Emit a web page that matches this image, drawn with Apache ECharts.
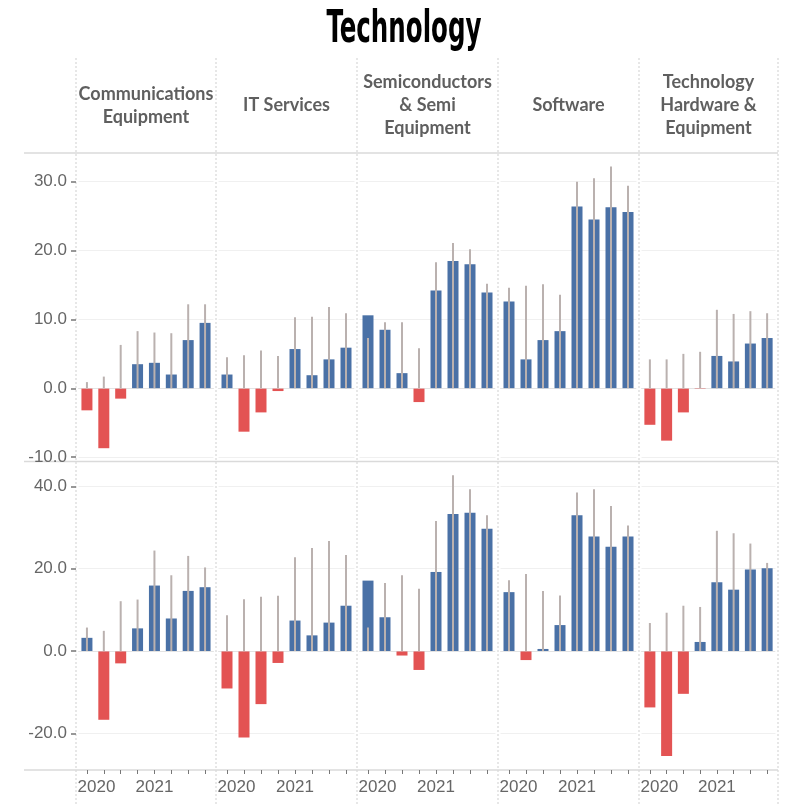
<!DOCTYPE html>
<html>
<head>
<meta charset="utf-8">
<title>Technology</title>
<script src="https://cdn.jsdelivr.net/npm/echarts@6/dist/echarts.min.js"></script>
<style>
  html, body { margin: 0; padding: 0; background: #fff; }
  #chart { width: 789px; height: 806px; }
</style>
</head>
<body>
<div id="chart"></div>
<script>
// categories: eight quarters, one bar each
const quarters = ['2020 Q1', '2020 Q2', '2020 Q3', '2020 Q4', '2021 Q1', '2021 Q2', '2021 Q3', '2021 Q4'];
const yearLabels = { '2020 Q1': '2020', '2021 Q1': '2021' };

const sectors = [
  'Communications\nEquipment',
  'IT Services',
  'Semiconductors\n& Semi\nEquipment',
  'Software',
  'Technology\nHardware &\nEquipment'
];

// top row: bars and thin grey reference bars, one list per sector
const topBars = [
  [-3.2, -8.7, -1.5, 3.5, 3.7, 2.0, 7.0, 9.5],
  [2.0, -6.3, -3.5, -0.4, 5.7, 1.9, 4.2, 5.9],
  [10.6, 8.5, 2.2, -2.0, 14.2, 18.5, 18.0, 13.9],
  [12.6, 4.2, 7.0, 8.3, 26.4, 24.5, 26.3, 25.6],
  [-5.3, -7.6, -3.5, -0.1, 4.7, 3.9, 6.5, 7.3]
];
const topRefs = [
  [0.9, 1.7, 6.3, 8.3, 8.1, 8.0, 12.2, 12.2],
  [4.5, 4.8, 5.5, 4.7, 10.3, 10.4, 11.8, 10.9],
  [7.3, 9.6, 9.6, 5.8, 18.3, 21.1, 20.2, 15.2],
  [14.6, 14.9, 15.1, 13.6, 30.0, 30.5, 32.2, 29.4],
  [4.2, 4.2, 5.0, 5.3, 11.4, 10.8, 11.2, 10.9]
];

// bottom row
const bottomBars = [
  [3.2, -16.7, -3.0, 5.5, 15.9, 7.9, 14.6, 15.5],
  [-9.1, -21.0, -12.9, -2.9, 7.4, 3.8, 6.9, 11.0],
  [17.1, 8.2, -1.1, -4.6, 19.2, 33.3, 33.6, 29.7],
  [14.3, -2.2, 0.5, 6.3, 33.0, 27.8, 25.3, 27.8],
  [-13.7, -25.5, -10.4, 2.2, 16.7, 14.9, 19.8, 20.1]
];
const bottomRefs = [
  [5.7, 4.9, 12.1, 12.5, 24.4, 18.4, 23.1, 20.3],
  [8.7, 12.6, 13.2, 13.4, 22.8, 25.0, 26.7, 23.3],
  [5.7, 16.5, 18.4, 15.1, 31.6, 42.7, 39.3, 33.0],
  [17.2, 18.7, 14.6, 13.5, 38.5, 39.3, 35.2, 30.5],
  [6.8, 9.3, 11.0, 10.7, 29.2, 28.6, 26.1, 21.4]
];

// y tick labels
const topTicks = [-10, 0, 10, 20, 30];
const bottomTicks = [-20, 0, 20, 40];

const BLUE = '#4a71a6';
const RED = '#e35353';
const GREY = '#bab1af';
const TEXT = '#666';

const colEdges = [76, 216, 357, 498, 639, 778];
const rows = [
  { top: 153, bottom: 461.5, min: -10.63, max: 34.17, step: 10, ticks: topTicks, bars: topBars, refs: topRefs },
  { top: 461.5, bottom: 770, min: -28.9, max: 46.03, step: 20, ticks: bottomTicks, bars: bottomBars, refs: bottomRefs }
];

let grids = [], xAxes = [], yAxes = [], series = [];

rows.forEach(function (row, r) {
  for (let c = 0; c < 5; c++) {
    let p = r * 5 + c;
    grids.push({
      left: colEdges[c] + 2.5,
      width: colEdges[c + 1] - colEdges[c] - 5,
      top: row.top,
      height: row.bottom - row.top
    });
    xAxes.push({
      type: 'category',
      gridIndex: p,
      data: quarters,
      position: 'bottom',
      axisLine: { show: true, onZero: false, lineStyle: { color: 'rgba(0,0,0,0)' } },
      axisTick: { show: r === 1, alignWithLabel: true, interval: 0, length: 4, lineStyle: { color: '#777' } },
      axisLabel: {
        show: r === 1,
        interval: 0,
        margin: 9,
        fontSize: 17,
        fontFamily: 'Liberation Sans',
        color: TEXT,
        formatter: function (value, index) {
          let y = yearLabels[value] || '';
          return (index === 0 && y) ? '{f|' + y + '}' : y;
        },
        rich: { f: { fontSize: 17, fontFamily: 'Liberation Sans', color: TEXT, padding: [0, 0, 0, 19] } }
      },
      splitLine: { show: false }
    });
    xAxes.push({ type: 'category', gridIndex: p, data: quarters, show: false });
    yAxes.push({
      type: 'value',
      gridIndex: p,
      min: row.min,
      max: row.max,
      minInterval: row.step,
      maxInterval: row.step,
      offset: 2.5,
      axisLine: { show: true, onZero: false, lineStyle: { color: 'rgba(0,0,0,0)' } },
      axisTick: { show: c === 0, length: 5, customValues: row.ticks, lineStyle: { color: '#777', width: 1.5 } },
      axisLabel: {
        show: c === 0,
        customValues: row.ticks,
        margin: 9,
        fontSize: 17,
        fontFamily: 'Liberation Sans',
        color: TEXT,
        formatter: function (v) { return v.toFixed(1); }
      },
      splitLine: { show: true, lineStyle: { color: '#f0f0f0', width: 1 } }
    });
    series.push({
      type: 'bar',
      xAxisIndex: p * 2,
      yAxisIndex: p,
      barWidth: 11,
      z: 2,
      data: row.bars[c],
      itemStyle: {
        color: function (params) {
          return params.value < 0 ? RED : BLUE;
        }
      },
      markLine: {
        silent: true,
        symbol: ['none', 'none'],
        label: { show: false },
        lineStyle: { color: '#d6d6d6', type: 'dotted', width: 1 },
        data: [{ yAxis: 0 }]
      }
    });
    series.push({
      type: 'bar',
      xAxisIndex: p * 2 + 1,
      yAxisIndex: p,
      barWidth: 2,
      z: 3,
      data: row.refs[c],
      itemStyle: { color: GREY }
    });
  }
});

// frame: dotted column dividers, solid row borders, headers, title
let graphics = [];
colEdges.forEach(function (x) {
  graphics.push({
    type: 'line',
    silent: true,
    shape: { x1: x, y1: 58, x2: x, y2: 806 },
    style: { stroke: '#cfcfcf', lineWidth: 1, lineDash: [2, 2] }
  });
});
[153, 461.5, 770].forEach(function (y) {
  graphics.push({
    type: 'line',
    silent: true,
    shape: { x1: 24, y1: y, x2: 778, y2: y },
    style: { stroke: '#dadada', lineWidth: 1.5 }
  });
});
sectors.forEach(function (name, c) {
  graphics.push({
    type: 'text',
    silent: true,
    x: (colEdges[c] + colEdges[c + 1]) / 2,
    y: 105.5,
    style: {
      text: name,
      textAlign: 'center',
      textVerticalAlign: 'middle',
      font: 'bold 18px Lato',
      lineHeight: 23,
      fill: '#5f5f5f'
    }
  });
});
// condensed heavy title: squeeze a bold face horizontally
graphics.push({
  type: 'group',
  silent: true,
  x: 404,
  y: 31,
  scaleX: 0.62,
  scaleY: 1,
  children: [{
    type: 'text',
    style: {
      x: 0,
      y: 0,
      text: 'Technology',
      textAlign: 'center',
      textVerticalAlign: 'middle',
      font: 'bold 44px "DejaVu Sans Condensed", "DejaVu Sans", sans-serif',
      fill: '#000'
    }
  }]
});

let myChart = echarts.init(document.getElementById('chart'));
myChart.setOption({
  backgroundColor: '#fff',
  animation: false,
  grid: grids,
  xAxis: xAxes,
  yAxis: yAxes,
  series: series,
  graphic: graphics
});
</script>
</body>
</html>
